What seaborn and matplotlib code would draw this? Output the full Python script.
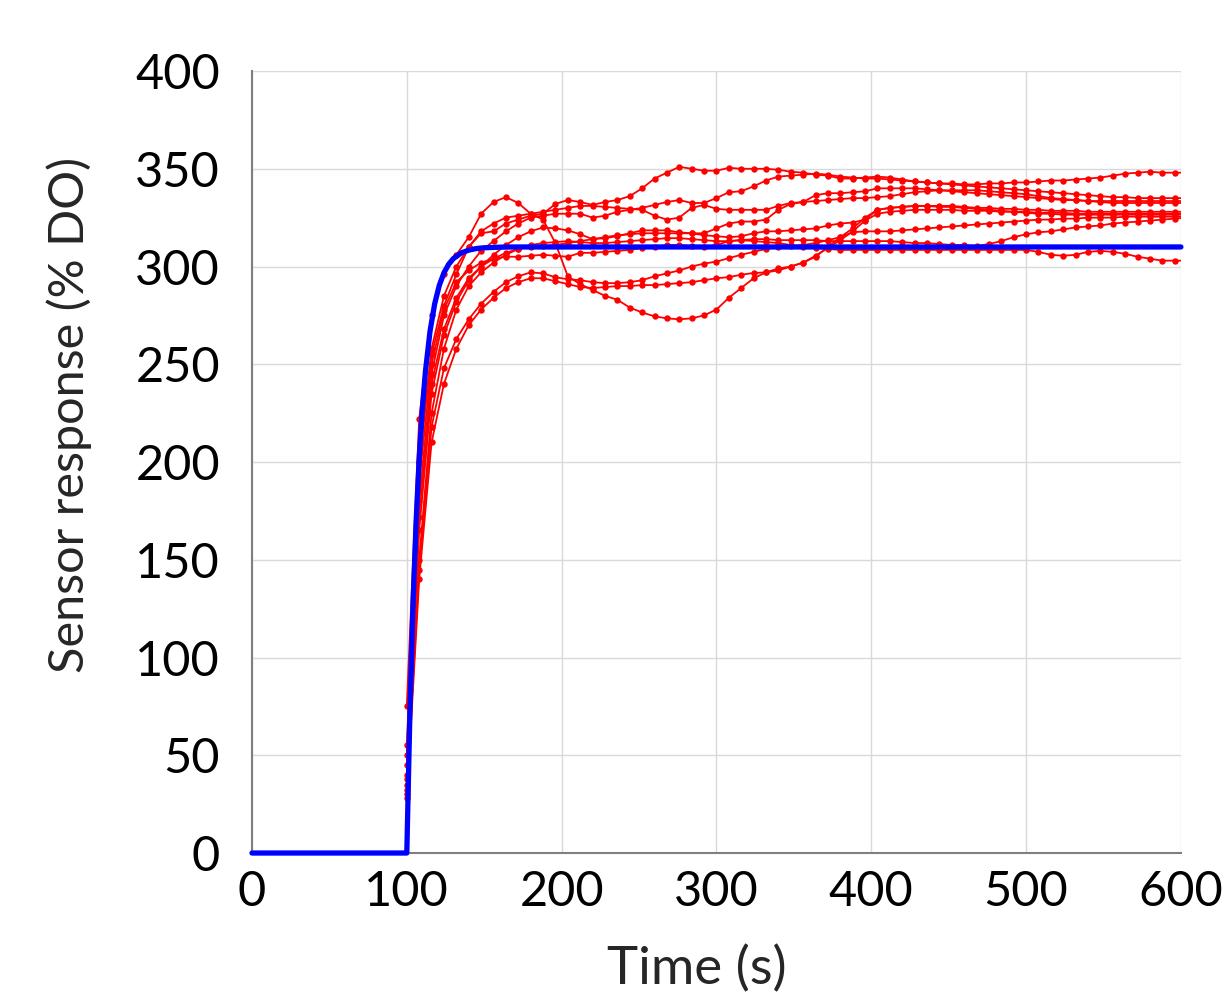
import matplotlib
matplotlib.use("Agg")
import matplotlib.pyplot as plt
import numpy as np
import pandas as pd
import seaborn as sns

# sample times of the measured runs (s); the last point sits past the axis and is clipped
TIME_S = list(range(100, 605, 8))

RUN_A = [50, 200, 255, 280, 296, 310, 317, 318,
         322, 324, 326, 327, 332, 334, 333, 331.5,
         333, 334, 336, 340, 345, 348, 351, 350,
         349, 349, 350.5, 350, 350, 350, 349.5, 348.5,
         348, 347, 346.5, 345, 345, 345.5, 346, 345.5,
         344.5, 343.5, 343, 342.5, 342.5, 342, 342, 342.5,
         342.5, 343, 343, 343.5, 344, 344, 344.5, 345,
         345.5, 346.5, 347.5, 348, 348.5, 348, 348, 348]
RUN_B = [40, 180, 245, 275, 290, 300, 308, 313,
         318, 322, 325, 326, 327, 327, 327, 325,
         326, 328, 329, 330, 331.5, 333, 334, 332.5,
         332.5, 335, 338, 338.5, 341, 344, 346, 346.5,
         347, 347.5, 347, 346, 345.5, 345, 345, 344.5,
         344, 343.5, 343, 342.5, 342, 341.5, 341, 340.5,
         340, 339.5, 339, 338.5, 338, 337.5, 337, 336.5,
         336, 335.5, 335.5, 335, 335, 335, 335, 335]
RUN_C = [55, 200, 258, 285, 300, 310, 318, 322,
         325, 326, 327, 328, 329, 330, 331, 331,
         330.5, 330, 329.5, 329, 326, 324, 325, 330,
         331.5, 329.5, 329, 329, 329, 329, 331, 332.5,
         333, 336.5, 337.5, 337.5, 338, 338.5, 340, 340,
         340, 340, 339.5, 339, 338.5, 338, 337.5, 337,
         336.5, 336, 335.5, 335, 334.5, 334, 334, 333.5,
         333.5, 333.5, 333.5, 333.5, 333.5, 333.5, 333.5, 333.5]
RUN_D = [35, 165, 235, 265, 282, 293, 300, 306,
         311, 315, 318, 320, 319.5, 318.5, 316.5, 314,
         314.5, 315.5, 317, 318.5, 318.5, 318.5, 317.5, 317,
         317, 319.5, 322, 323, 323, 324, 329, 332,
         333, 333.5, 334, 334.5, 335, 335, 335.5, 336,
         337, 338, 338.5, 339, 339, 339, 339, 338.5,
         338, 337.5, 337, 336, 335, 334.5, 334, 333.5,
         333, 332.5, 332.5, 332.5, 332.5, 332.5, 332.5, 332.5]
RUN_E = [75, 222, 275, 296, 306, 315, 327, 333,
         335.5, 332.5, 327, 324, 312, 295, 291, 288,
         285, 283, 279, 276.5, 274.5, 273.5, 273, 273.5,
         275, 278, 284, 289, 294, 297, 299, 300,
         302, 305, 310, 315, 319.5, 325, 329, 330,
         330.5, 331, 331, 331, 331, 330.5, 330, 330,
         329.5, 329.5, 329, 329, 328.5, 328.5, 328.5, 328,
         328, 328, 328, 328, 328, 328, 328, 328]
RUN_F = [38, 172, 240, 268, 284, 294, 300, 304,
         307, 309, 310, 310.5, 311, 312, 313, 314,
         315, 316, 316.5, 317, 317, 317, 317, 317,
         316, 315.5, 315, 315.5, 317, 318, 318, 318.5,
         319, 319.5, 321, 322, 322.5, 324, 329, 330,
         330.5, 331, 331, 330.5, 330.5, 330, 329.5, 329,
         328.5, 328, 327.5, 327, 327, 326.5, 326.5, 326.5,
         326.5, 326.5, 326.5, 326.5, 326.5, 326.5, 326.5, 326.5]
RUN_G = [30, 150, 225, 258, 278, 290, 297, 302,
         306, 309, 311, 312, 312.5, 313, 312.5, 312,
         312, 312.5, 313, 313.5, 314, 314.5, 314.5, 314,
         313.5, 313, 313, 313.5, 314, 314, 313.5, 313.5,
         313.5, 313.5, 313, 313, 313, 313, 313, 313,
         312.5, 312, 312, 311.5, 311, 311, 310.5, 311.5,
         313, 315, 316.5, 317.5, 318, 319, 320, 320.5,
         321, 322, 322.5, 323, 323.5, 324, 324.5, 325]
RUN_H = [45, 190, 250, 278, 292, 298, 302, 304,
         305, 305, 305.5, 306, 305.5, 305, 307, 307,
         307.5, 308, 308.5, 309.5, 310, 311, 311, 310.5,
         310, 311, 313, 313.5, 313, 312.5, 312, 311,
         310, 309.5, 309, 308.5, 308.5, 308.5, 308.5, 308.5,
         308.5, 308.5, 308.5, 308.5, 308.5, 308.5, 308.5, 308.5,
         308.5, 308.5, 308.5, 307.5, 306, 305.5, 306, 307.5,
         308, 307.5, 306.5, 305, 304, 303, 303, 303]
RUN_I = [32, 145, 218, 248, 263, 273, 281, 287,
         292, 295, 297, 296.5, 294.5, 293.5, 293, 292,
         291.5, 291.5, 292, 293, 295, 296.5, 298, 300,
         301.5, 302.5, 304.3, 306, 307.5, 309, 310, 310.5,
         311, 312, 313.5, 315, 317.5, 318, 318, 318,
         318.5, 319, 319.5, 320, 320.5, 321, 321.5, 322,
         322.5, 323, 323.5, 324, 324, 324.5, 324.5, 325,
         325, 325, 325.5, 325.5, 325.5, 325.5, 325.5, 325.5]
RUN_J = [28, 140, 210, 240, 258, 270, 278, 284,
         289, 292, 294, 294, 292.5, 291, 289.5, 289,
         289.5, 290, 290, 290.5, 290.5, 291, 291.5, 292,
         293, 294, 294.6, 295.8, 296.7, 297, 298, 300,
         302, 305.5, 309.5, 313.5, 318, 323.5, 327, 328,
         328.5, 329, 329, 329, 329, 328.5, 328.5, 328.5,
         328, 328, 328, 327.5, 327.5, 327.5, 327, 327,
         327, 327, 327, 327, 327, 327, 327, 327]

# first-order model response (blue)
MODEL_T = [0, 100, 102, 104, 106, 108, 110, 112, 115, 118, 121, 124,
           127, 130, 135, 140, 145, 150, 160, 170, 185, 200, 600]
MODEL_V = [0, 0, 71.6, 126.8, 169.2, 201.8, 226.9, 246.1, 266.9, 280.9, 290.4, 296.8,
           301.1, 304.0, 306.9, 308.4, 309.2, 309.6, 309.9, 310, 310, 310, 310]

X_TICKS = [0, 100, 200, 300, 400, 500, 600]
Y_TICKS = [0, 50, 100, 150, 200, 250, 300, 350, 400]

runs = {"A": RUN_A, "B": RUN_B, "C": RUN_C, "D": RUN_D, "E": RUN_E,
        "F": RUN_F, "G": RUN_G, "H": RUN_H, "I": RUN_I, "J": RUN_J}
measured = pd.concat(
    [pd.DataFrame({"time": TIME_S, "response": vals, "run": name})
     for name, vals in runs.items()],
    ignore_index=True,
)
model = pd.DataFrame({"time": MODEL_T, "response": MODEL_V})

sns.set_theme(style="whitegrid")
plt.rcParams["font.family"] = ["Lato", "DejaVu Sans"]

fig = plt.figure(figsize=(12.25, 9.92), dpi=100)
ax = fig.add_axes([0.2057, 0.1401, 0.7583, 0.7883])

sns.lineplot(data=measured, x="time", y="response", units="run", estimator=None,
             color="#ff0000", linewidth=1.3, marker="o", markersize=4.6,
             markeredgewidth=0, sort=False, ax=ax, zorder=2)
sns.lineplot(data=model, x="time", y="response", color="#0000ff", linewidth=3.8,
             sort=False, ax=ax, zorder=3, clip_on=False)

ax.set_xlim(0, 600)
ax.set_ylim(0, 400)
ax.set_xticks(X_TICKS)
ax.set_yticks(Y_TICKS)
ax.tick_params(axis="both", labelsize=35, colors="black")
ax.tick_params(axis="y", direction="in", length=7, width=1.2, color="#7f7f7f", pad=23)
ax.tick_params(axis="x", length=0, pad=12)

ax.grid(True, color="#d9d9d9", linewidth=1.0)
ax.set_facecolor("white")
for side in ["top", "right"]:
    ax.spines[side].set_visible(False)
for side in ["left", "bottom"]:
    ax.spines[side].set_color("#7f7f7f")
    ax.spines[side].set_linewidth(1.5)

ax.set_xlabel("Time (s)", fontsize=38, va="top")
ax.set_ylabel("Sensor response (% DO)", fontsize=35)
ax.xaxis.set_label_coords(0.479, -0.118)
ax.yaxis.set_label_coords(-0.172, 0.56)

fig.savefig("out.png", dpi=100, facecolor="white")
plt.close(fig)
